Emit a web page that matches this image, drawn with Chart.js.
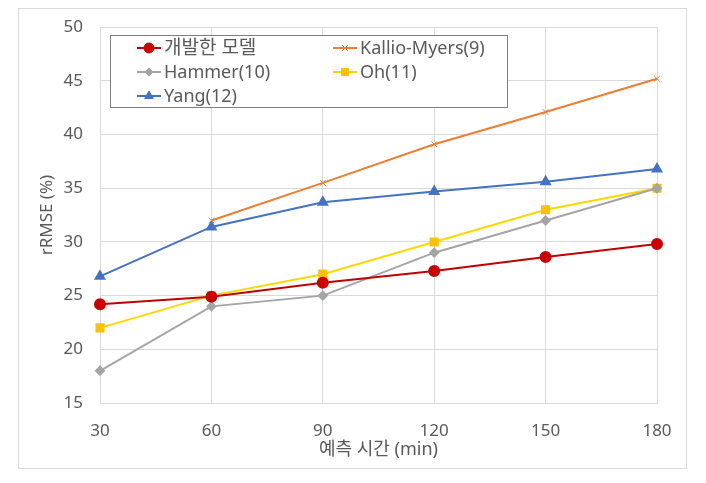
<!DOCTYPE html>
<html>
<head>
<meta charset="utf-8">
<script src="https://cdn.jsdelivr.net/npm/chart.js@4.4.1/dist/chart.umd.min.js"></script>
<style>
  html, body { margin: 0; padding: 0; background: #fff; }
  #wrap { width: 706px; height: 483px; }
</style>
</head>
<body>
<div id="wrap"><canvas id="lineChart" width="706" height="483"></canvas></div>
<script>
// 예측 시간 (min)
const times = ['30', '60', '90', '120', '150', '180'];
const yTicks = [15, 20, 25, 30, 35, 40, 45, 50];

// rRMSE (%) 값 - 그림에서 읽은 값
const devModel = [24.2, 24.9, 26.2, 27.3, 28.6, 29.8];
const kallioMyers = [null, 32.0, 35.5, 39.1, 42.1, 45.2];
const hammer = [18.0, 24.0, 25.0, 29.0, 32.0, 35.0];
const oh = [22.0, 25.0, 27.0, 30.0, 33.0, 35.0];
const yang = [26.8, 31.4, 33.7, 34.7, 35.6, 36.8];

const FONT = '"Noto Sans", "Noto Sans CJK KR", sans-serif';
const TXT = '#595959';
const GRID = '#D9D9D9';

// 바깥 테두리
const borderPlugin = {
    id: 'outerBorder',
    beforeDraw(chart) {
        const c = chart.ctx;
        c.save();
        c.fillStyle = '#fff';
        c.fillRect(0, 0, chart.width, chart.height);
        c.strokeStyle = GRID;
        c.lineWidth = 1;
        c.strokeRect(18.5, 8.5, 668, 460);
        c.restore();
    }
};

// 2열 범례 (엑셀 스타일)
const legendPlugin = {
    id: 'gridLegend',
    afterDraw(chart) {
        const c = chart.ctx;
        c.save();
        c.fillStyle = '#fff';
        c.fillRect(110, 35, 397, 72);
        c.strokeStyle = '#7F7F7F';
        c.lineWidth = 1;
        c.strokeRect(110.5, 35.5, 397, 72);
        const cols = [137, 333];
        const rows = [48, 72, 96];
        chart.data.datasets.forEach((ds, i) => {
            const x = cols[i % 2];
            const y = rows[Math.floor(i / 2)];
            c.strokeStyle = ds.borderColor;
            c.lineWidth = 2;
            c.beginPath();
            c.moveTo(x, y);
            c.lineTo(x + 24, y);
            c.stroke();
            c.fillStyle = ds.pointBackgroundColor;
            c.strokeStyle = ds.pointBorderColor;
            c.lineWidth = ds.pointBorderWidth || 1;
            Chart.helpers.drawPoint(c, {
                pointStyle: ds.pointStyle,
                radius: ds.pointRadius,
                borderWidth: ds.pointBorderWidth || 1
            }, x + 12, y);
            c.font = (i === 0 ? '19px ' : '18px ') + FONT;
            c.textBaseline = 'middle';
            c.fillStyle = TXT;
            c.fillText(ds.label, x + 27, y + 1);
        });
        c.restore();
    }
};

const ctx = document.getElementById('lineChart').getContext('2d');
const lineChart = new Chart(ctx, {
    type: 'line',
    data: {
        labels: times,
        datasets: [
            {
                label: '개발한 모델',
                data: devModel,
                borderColor: '#C00000',
                backgroundColor: '#C00000',
                pointBackgroundColor: '#CC0000',
                pointBorderColor: '#CC0000',
                pointStyle: 'circle',
                pointRadius: 5,
                borderWidth: 2
            },
            {
                label: 'Kallio-Myers(9)',
                data: kallioMyers,
                borderColor: '#ED7D31',
                backgroundColor: '#ED7D31',
                pointBackgroundColor: '#ED7D31',
                pointBorderColor: '#ED7D31',
                pointStyle: 'crossRot',
                pointRadius: 4,
                pointBorderWidth: 1,
                borderWidth: 2
            },
            {
                label: 'Hammer(10)',
                data: hammer,
                borderColor: '#A5A5A5',
                backgroundColor: '#A5A5A5',
                pointBackgroundColor: '#A5A5A5',
                pointBorderColor: '#A5A5A5',
                pointStyle: 'rectRot',
                pointRadius: 4,
                borderWidth: 2
            },
            {
                label: 'Oh(11)',
                data: oh,
                borderColor: '#FFD700',
                backgroundColor: '#FFC000',
                pointBackgroundColor: '#FFC000',
                pointBorderColor: '#FFC000',
                pointStyle: 'rect',
                pointRadius: 5,
                borderWidth: 2
            },
            {
                label: 'Yang(12)',
                data: yang,
                borderColor: '#4472C4',
                backgroundColor: '#4472C4',
                pointBackgroundColor: '#4472C4',
                pointBorderColor: '#4472C4',
                pointStyle: 'triangle',
                pointRadius: 5,
                borderWidth: 2
            }
        ]
    },
    options: {
        responsive: false,
        animation: false,
        layout: { padding: { left: 30, right: 49, top: 27, bottom: 10 } },
        scales: {
            x: {
                offset: false,
                grid: { color: GRID, drawTicks: false },
                border: { color: GRID },
                ticks: { color: TXT, font: { family: FONT, size: 17 }, padding: 18, maxRotation: 0 },
                title: { display: true, text: '예측 시간 (min)', color: TXT, font: { family: FONT, size: 18 }, padding: { top: 0, bottom: 12 } },
                afterFit(scale) { scale.height = 70; }
            },
            y: {
                min: 15,
                max: 50,
                grid: { color: GRID, drawTicks: false },
                border: { color: GRID },
                afterBuildTicks(scale) { scale.ticks = yTicks.map(v => ({ value: v })); },
                ticks: { color: TXT, font: { family: FONT, size: 17 }, padding: 17 },
                title: { display: true, text: 'rRMSE (%)', color: TXT, font: { family: FONT, size: 17 }, padding: { top: 7, bottom: 0 } },
                afterFit(scale) { scale.width = 70; }
            }
        },
        plugins: {
            legend: { display: false },
            tooltip: { enabled: false }
        }
    },
    plugins: [borderPlugin, legendPlugin]
});
</script>
</body>
</html>
